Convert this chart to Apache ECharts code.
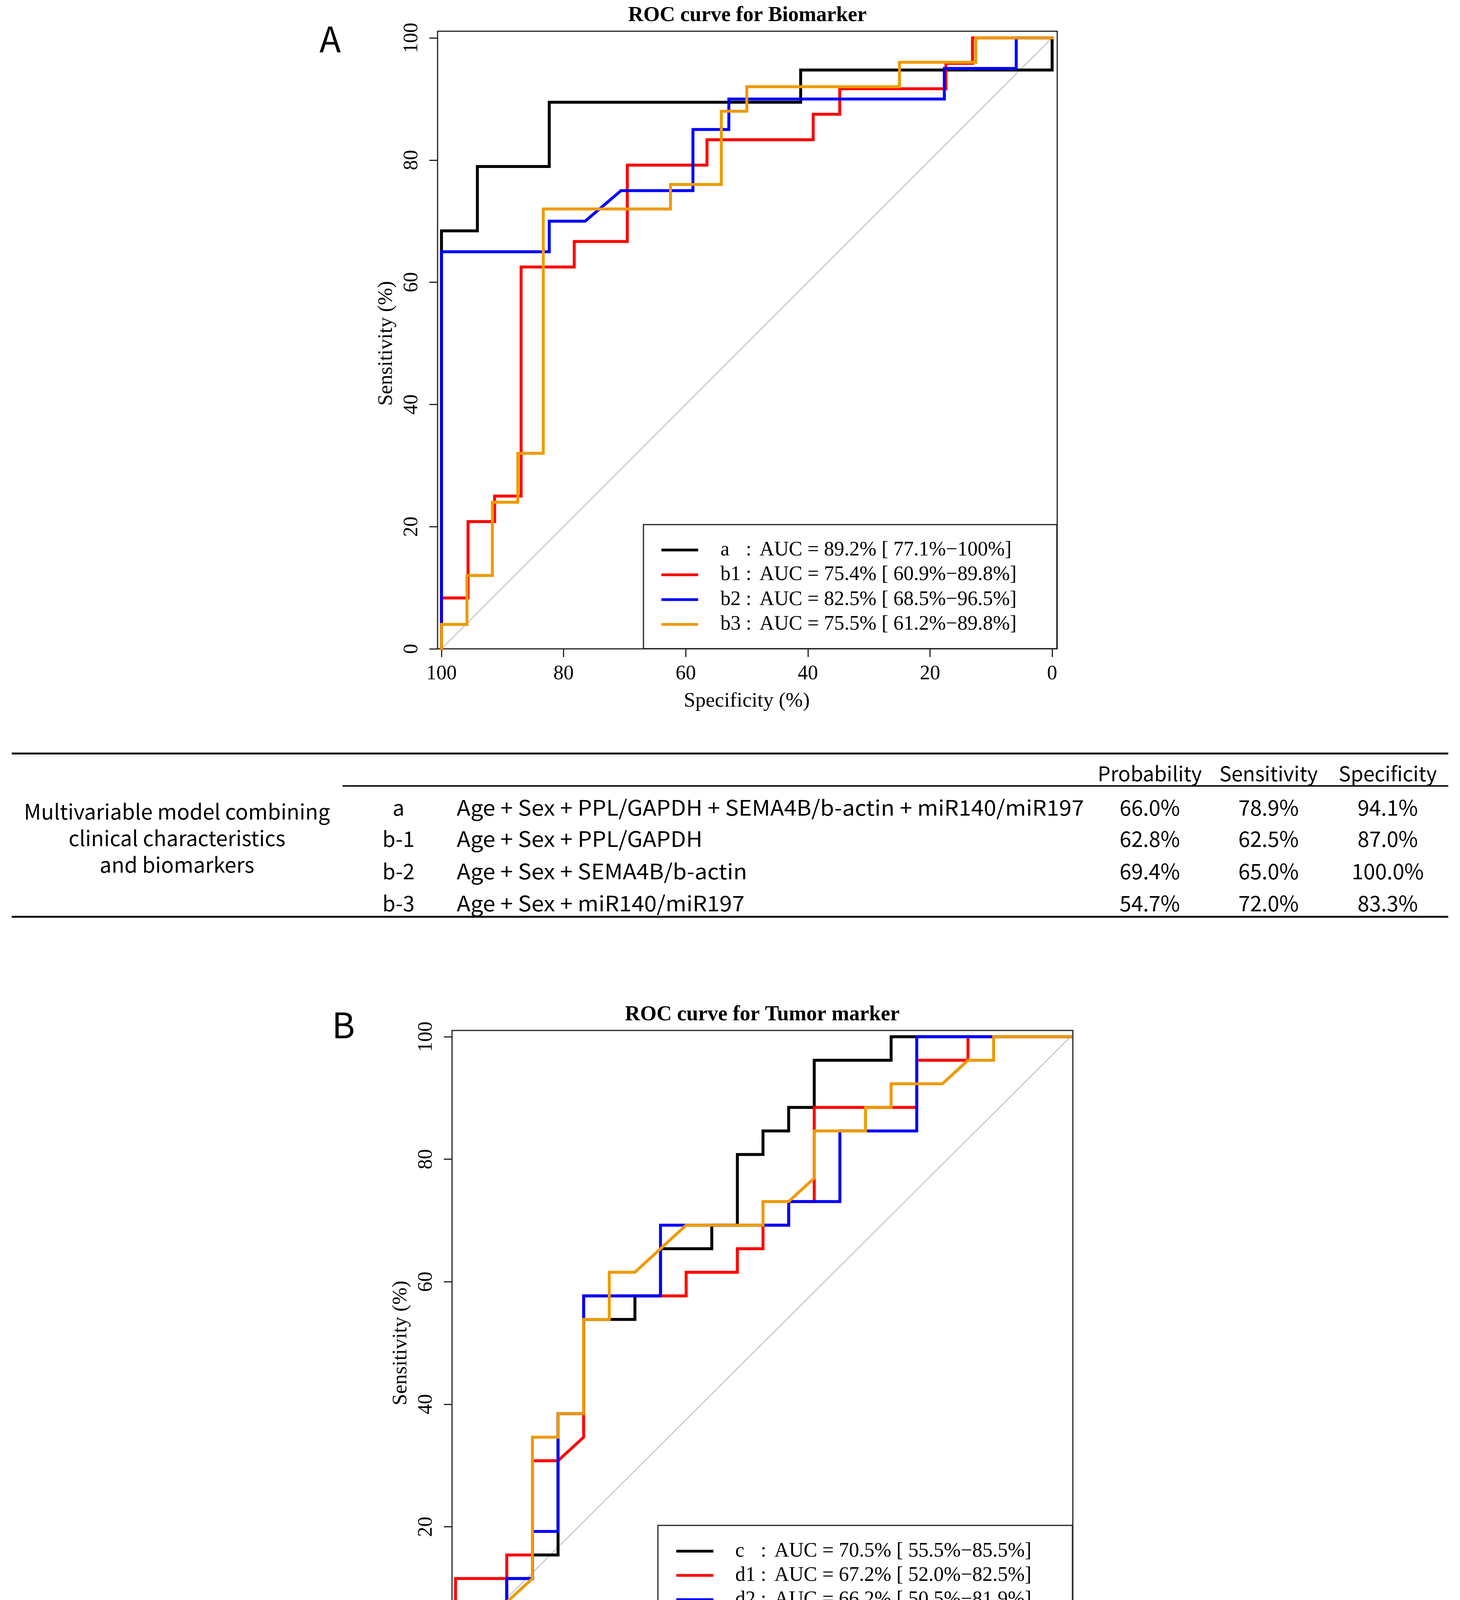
<!doctype html>
<html>
<head>
<meta charset="utf-8">
<title>ROC curves for biomarker and tumor marker models</title>
<style>
  html, body { margin: 0; padding: 0; background: #fff; }
  #main { width: 3737px; height: 4931px; }
</style>
</head>
<body>
<div id="main"></div>
<script src="https://cdn.jsdelivr.net/npm/echarts@6/dist/echarts.min.js"></script>
<script>
// ---- panel A : biomarker ROC curves (specificity %, sensitivity %) ----
var aSpec  = [100, 100, 94.12, 94.12, 82.35, 82.35, 41.18, 41.18, 0, 0];
var aSens  = [0, 68.42, 68.42, 78.95, 78.95, 89.47, 89.47, 94.74, 94.74, 100];
var b1Spec = [100, 100, 95.65, 95.65, 91.3, 91.3, 86.96, 86.96, 78.26, 78.26, 69.57, 69.57, 56.52, 56.52, 39.13, 39.13, 34.78, 34.78, 17.39, 17.39, 13.04, 13.04, 0];
var b1Sens = [0, 8.33, 8.33, 20.83, 20.83, 25, 25, 62.5, 62.5, 66.67, 66.67, 79.17, 79.17, 83.33, 83.33, 87.5, 87.5, 91.67, 91.67, 95.83, 95.83, 100, 100];
var b2Spec = [100, 100, 82.35, 82.35, 76.47, 70.59, 58.82, 58.82, 52.94, 52.94, 17.65, 17.65, 5.88, 5.88, 0];
var b2Sens = [0, 65, 65, 70, 70, 75, 75, 85, 85, 90, 90, 95, 95, 100, 100];
var b3Spec = [100, 100, 95.83, 95.83, 91.67, 91.67, 87.5, 87.5, 83.33, 83.33, 62.5, 62.5, 54.17, 54.17, 50, 50, 25, 25, 12.5, 12.5, 0];
var b3Sens = [0, 4, 4, 12, 12, 24, 24, 32, 32, 72, 72, 76, 76, 88, 88, 92, 92, 96, 96, 100, 100];

// ---- panel B : tumor marker ROC curves ----
var cSpec  = [100, 100, 91.67, 91.67, 87.5, 87.5, 83.33, 83.33, 79.17, 79.17, 70.83, 70.83, 66.67, 66.67, 58.33, 58.33, 54.17, 54.17, 50, 50, 45.83, 45.83, 41.67, 41.67, 29.17, 29.17, 0];
var cSens  = [0, 7.69, 7.69, 11.54, 11.54, 15.38, 15.38, 38.46, 38.46, 53.85, 53.85, 57.69, 57.69, 65.38, 65.38, 69.23, 69.23, 80.77, 80.77, 84.62, 84.62, 88.46, 88.46, 96.15, 96.15, 100, 100];
var d1Spec = [100, 100, 91.67, 91.67, 87.5, 87.5, 83.33, 79.17, 79.17, 62.5, 62.5, 54.17, 54.17, 50, 50, 45.83, 45.83, 41.67, 41.67, 25, 25, 16.67, 16.67, 0];
var d1Sens = [0, 11.54, 11.54, 15.38, 15.38, 30.77, 30.77, 34.62, 57.69, 57.69, 61.54, 61.54, 65.38, 65.38, 69.23, 69.23, 73.08, 73.08, 88.46, 88.46, 96.15, 96.15, 100, 100];
var d2Spec = [100, 100, 91.67, 91.67, 87.5, 87.5, 83.33, 83.33, 79.17, 79.17, 66.67, 66.67, 45.83, 45.83, 37.5, 37.5, 25, 25, 0];
var d2Sens = [0, 7.69, 7.69, 11.54, 11.54, 19.23, 19.23, 38.46, 38.46, 57.69, 57.69, 69.23, 69.23, 73.08, 73.08, 84.62, 84.62, 100, 100];
var d3Spec = [100, 91.67, 91.67, 87.5, 87.5, 83.33, 83.33, 79.17, 79.17, 75, 75, 70.83, 62.5, 50, 50, 45.83, 41.67, 41.67, 33.33, 33.33, 29.17, 29.17, 20.83, 16.67, 12.5, 12.5, 0];
var d3Sens = [0, 0, 7.69, 11.54, 34.62, 34.62, 38.46, 38.46, 53.85, 53.85, 61.54, 61.54, 69.23, 69.23, 73.08, 73.08, 76.92, 84.62, 84.62, 88.46, 88.46, 92.31, 92.31, 96.15, 96.15, 100, 100];

var refSpec = [100, 0];
var refSens = [0, 100];

var namesA = ['a', 'b1', 'b2', 'b3'];
var aucA = ['AUC = 89.2% [ 77.1%\u2212100%]', 'AUC = 75.4% [ 60.9%\u221289.8%]', 'AUC = 82.5% [ 68.5%\u221296.5%]', 'AUC = 75.5% [ 61.2%\u221289.8%]'];
var namesB = ['c', 'd1', 'd2', 'd3'];
var aucB = ['AUC = 70.5% [ 55.5%\u221285.5%]', 'AUC = 67.2% [ 52.0%\u221282.5%]', 'AUC = 66.2% [ 50.5%\u221281.9%]', 'AUC = 67.4% [ 51.9%\u221282.9%]'];
var curveColors = ['#000000', '#ff0000', '#0000ff', '#ee9a00'];

// ---- tables ----
var tableHead = ['Probability', 'Sensitivity', 'Specificity'];
var tableA_id = ['a', 'b-1', 'b-2', 'b-3'];
var tableA_model = ['Age + Sex + PPL/GAPDH + SEMA4B/b-actin + miR140/miR197', 'Age + Sex + PPL/GAPDH', 'Age + Sex + SEMA4B/b-actin', 'Age + Sex + miR140/miR197'];
var tableA_prob = ['66.0%', '62.8%', '69.4%', '54.7%'];
var tableA_sens = ['78.9%', '62.5%', '65.0%', '72.0%'];
var tableA_spec = ['94.1%', '87.0%', '100.0%', '83.3%'];
var tableA_group = ['Multivariable model combining', 'clinical characteristics', 'and biomarkers'];
var tableB_id = ['c', 'd-1', 'd-2', 'd-3'];
var tableB_model = ['Age + Sex + CEA + CA 19-9 + CA 72-4', 'Age + Sex + CEA', 'Age + Sex + CA 19-9', 'Age + Sex + CA 72-4'];
var tableB_prob = ['38.3%', '52.5%', '51.7%', '48.7%'];
var tableB_sens = ['96.2%', '57.7%', '57.7%', '61.5%'];
var tableB_spec = ['41.7%', '79.2%', '79.2%', '75.0%'];
var tableB_group = ['Multivariable model combining', 'clinical characteristics', 'and tumor markers'];

var SERIF = '"Liberation Serif", "Times New Roman", serif';
var SANS = '"Noto Sans CJK KR", "Noto Sans", sans-serif';

function zip(xs, ys) {
    var out = [];
    for (var i = 0; i < xs.length; i++) out.push([xs[i], ys[i]]);
    return out;
}

var myChart = echarts.init(document.getElementById('main'), null, { renderer: 'canvas' });

// box grid + data grid for each panel
var grids = [
    { left: 1120, top: 80, width: 1586, height: 1581, show: true, borderColor: '#222', borderWidth: 3, backgroundColor: 'transparent' },
    { left: 1130, top: 97, width: 1563, height: 1564 },
    { left: 1157, top: 2638, width: 1589, height: 1584, show: true, borderColor: '#222', borderWidth: 3, backgroundColor: 'transparent' },
    { left: 1166, top: 2654, width: 1574, height: 1568 }
];

function hiddenAxis(g) {
    return { type: 'value', gridIndex: g, show: false, min: 0, max: 1 };
}
function specAxis(g) {
    return {
        type: 'value', gridIndex: g, min: 0, max: 100, interval: 20, inverse: true, position: 'bottom',
        axisLine: { show: false, onZero: false },
        axisTick: { show: true, inside: false, length: 21, lineStyle: { color: '#222', width: 3 } },
        splitLine: { show: false },
        axisLabel: { fontFamily: SERIF, fontSize: 52, color: '#000', margin: 38 },
        name: 'Specificity (%)', nameLocation: 'middle', nameGap: 108,
        nameTextStyle: { fontFamily: SERIF, fontSize: 53, color: '#000' }
    };
}
function sensAxis(g, off) {
    return {
        type: 'value', gridIndex: g, min: 0, max: 100, interval: 20, offset: off, position: 'left',
        axisLine: { show: false, onZero: false },
        axisTick: { show: true, inside: false, length: 21, lineStyle: { color: '#222', width: 3 } },
        splitLine: { show: false },
        axisLabel: { fontFamily: SERIF, fontSize: 52, color: '#000', margin: 40, rotate: 90 },
        name: 'Sensitivity (%)', nameLocation: 'middle', nameGap: 104,
        nameTextStyle: { fontFamily: SERIF, fontSize: 53, color: '#000' }
    };
}

var series = [];
function addPanel(axisIdx, names, specs, senses) {
    series.push({
        type: 'line', xAxisIndex: axisIdx, yAxisIndex: axisIdx, data: zip(refSpec, refSens),
        symbol: 'none', silent: true, clip: false, z: 1,
        lineStyle: { color: '#c4c4c4', width: 2.5 }
    });
    for (var i = 0; i < names.length; i++) {
        series.push({
            name: names[i], type: 'line', xAxisIndex: axisIdx, yAxisIndex: axisIdx,
            data: zip(specs[i], senses[i]), symbol: 'none', clip: false, z: 2 + i,
            color: curveColors[i],
            lineStyle: { color: curveColors[i], width: 7.5, cap: 'square', join: 'miter' }
        });
    }
}
addPanel(1, namesA, [aSpec, b1Spec, b2Spec, b3Spec], [aSens, b1Sens, b2Sens, b3Sens]);
addPanel(3, namesB, [cSpec, d1Spec, d2Spec, d3Spec], [cSens, d1Sens, d2Sens, d3Sens]);

function makeLegend(names, aucs, left, top, pad, gap, iconW, spacer) {
    var lookup = {};
    for (var i = 0; i < names.length; i++) lookup[names[i]] = aucs[i];
    return {
        data: names, orient: 'vertical', left: left, top: top,
        padding: pad, itemGap: gap, itemWidth: iconW, itemHeight: 7, icon: 'rect',
        borderColor: '#222', borderWidth: 3, backgroundColor: '#fff',
        selectedMode: false,
        formatter: function (name) {
            return '{sp|}{n|' + name + '}{c|:}{t|' + lookup[name] + '}';
        },
        textStyle: {
            fontFamily: SERIF, fontSize: 52, color: '#000', lineHeight: 52,
            rich: {
                sp: { width: spacer, fontFamily: SERIF, fontSize: 52, lineHeight: 52 },
                n: { width: 65, fontFamily: SERIF, fontSize: 52, lineHeight: 52 },
                c: { width: 35, fontFamily: SERIF, fontSize: 52, lineHeight: 52 },
                t: { width: 650, fontFamily: SERIF, fontSize: 52, lineHeight: 52 }
            }
        }
    };
}

// ---- graphic: titles, panel letters, tables ----
var graphics = [];
function txt(s, x, y, opts) {
    opts = opts || {};
    graphics.push({
        type: 'text', x: x, y: y, silent: true, scaleX: opts.scaleX || 1,
        style: {
            text: s, fill: '#000',
            font: (opts.weight || 'normal') + ' ' + (opts.size || 54) + 'px ' + (opts.family || SANS),
            textAlign: opts.align || 'center', textVerticalAlign: 'middle'
        }
    });
}
function hline(x1, x2, y, w) {
    graphics.push({
        type: 'line', silent: true,
        shape: { x1: x1, y1: y, x2: x2, y2: y },
        style: { stroke: '#111', lineWidth: w }
    });
}

txt('ROC curve for Biomarker', 1913, 40, { family: SERIF, weight: 'bold', size: 54 });
txt('ROC curve for Tumor marker', 1951, 2598, { family: SERIF, weight: 'bold', size: 54 });
txt('A', 845, 100, { size: 90 });
txt('B', 879, 2624, { size: 90 });

function drawTable(t) {
    hline(t.x0, t.x1, t.yTop, 5);
    hline(t.xMid, t.x1, t.yHead2, 4);
    hline(t.x0, t.x1, t.yBot, 5);
    for (var k = 0; k < tableHead.length; k++) txt(tableHead[k], t.cols[k], t.yHead, { size: 52 });
    for (var i = 0; i < t.ids.length; i++) {
        var y = t.rows[i];
        txt(t.ids[i], t.idX, y);
        txt(t.models[i], t.modelX, y, { align: 'left', scaleX: 1.07 });
        txt(t.prob[i], t.cols[0], y);
        txt(t.sens[i], t.cols[1], y);
        txt(t.spec[i], t.cols[2], y);
    }
    for (var j = 0; j < t.group.length; j++) txt(t.group[j], t.groupX, t.groupY[j]);
}

drawTable({
    x0: 30, x1: 3707, xMid: 877, yTop: 1929, yHead2: 2012, yBot: 2347, yHead: 1980,
    cols: [2943, 3247, 3552], rows: [2067, 2147, 2230, 2312], idX: 1020, modelX: 1169,
    groupX: 453, groupY: [2077, 2145, 2213],
    ids: tableA_id, models: tableA_model, prob: tableA_prob, sens: tableA_sens, spec: tableA_spec, group: tableA_group
});
drawTable({
    x0: 21, x1: 3718, xMid: 871, yTop: 4487, yHead2: 4570, yBot: 4905, yHead: 4540,
    cols: [2949, 3253, 3558], rows: [4627, 4703, 4787, 4870], idX: 1014, modelX: 1166,
    groupX: 447, groupY: [4637, 4707, 4775],
    ids: tableB_id, models: tableB_model, prob: tableB_prob, sens: tableB_sens, spec: tableB_spec, group: tableB_group
});

var option = {
    animation: false,
    backgroundColor: '#fff',
    grid: grids,
    xAxis: [hiddenAxis(0), specAxis(1), hiddenAxis(2), specAxis(3)],
    yAxis: [hiddenAxis(0), sensAxis(1, 10), hiddenAxis(2), sensAxis(3, 9)],
    legend: [
        makeLegend(namesA, aucA, 1647, 1343, [39, 103, 36, 46], 11.5, 94, 52),
        makeLegend(namesB, aucB, 1684, 3905, [40, 105, 39, 47], 10, 95, 51)
    ],
    series: series,
    graphic: graphics
};

myChart.setOption(option);
</script>
</body>
</html>
